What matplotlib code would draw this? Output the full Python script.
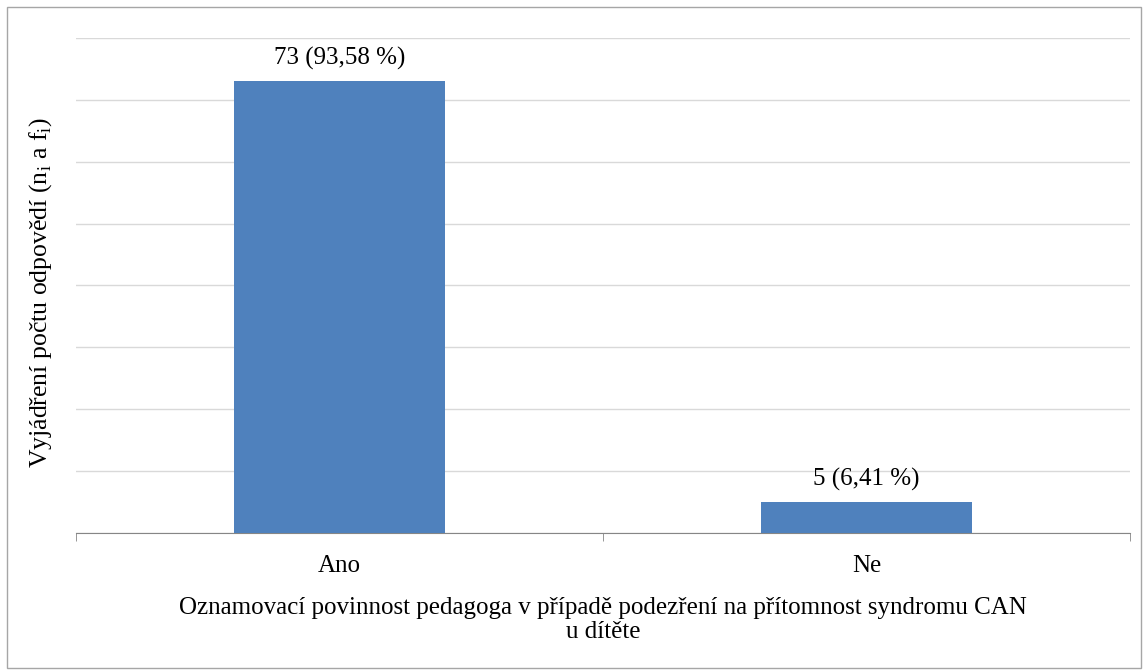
"""Oznamovací povinnost pedagoga - sloupcový graf."""
import matplotlib.pyplot as plt
from matplotlib.patches import Rectangle

plt.rcParams["font.family"] = ["Liberation Serif", "DejaVu Serif"]
plt.rcParams["mathtext.fontset"] = "custom"
plt.rcParams["mathtext.rm"] = "Liberation Serif"

categories = ["Ano", "Ne"]
counts = [73, 5]
percent_labels = ["73 (93,58 %)", "5 (6,41 %)"]

fig = plt.figure(figsize=(11.48, 6.72), dpi=100)
ax = fig.add_axes([0.0662, 0.2068, 0.918, 0.7367])

# rámeček kolem celého grafu
fig.patches.append(Rectangle((0.006, 0.006), 0.988, 0.983, transform=fig.transFigure,
                             fill=False, edgecolor="#a6a6a6", linewidth=1.0))

x = range(len(categories))
bars = ax.bar(x, counts, width=0.4, color="#4f81bd", zorder=3)

for bar, lab in zip(bars, percent_labels):
    ax.text(bar.get_x() + bar.get_width() / 2, bar.get_height() + 1.8, lab,
            ha="center", va="bottom", fontsize=18)

ax.set_xlim(-0.5, 1.5)
ax.set_ylim(0, 80)
ax.set_yticks(range(0, 81, 10))
ax.yaxis.grid(True, color="#d9d9d9", linewidth=1.0, zorder=0)
ax.tick_params(axis="y", left=False, labelleft=False)

ax.set_xticks(x)
ax.set_xticklabels(categories, fontsize=18)
ax.set_xticks([-0.5, 0.5, 1.5], minor=True)
ax.tick_params(axis="x", which="major", length=0, pad=16)
ax.tick_params(axis="x", which="minor", length=6, color="#868686")

for side in ["top", "right", "left"]:
    ax.spines[side].set_visible(False)
ax.spines["bottom"].set_color("#868686")

ax.set_xlabel("Oznamovací povinnost pedagoga v případě podezření na přítomnost syndromu CAN\nu dítěte",
              fontsize=18, labelpad=14, linespacing=1.15)
ax.set_ylabel(r"Vyjádření počtu odpovědí (n$_\mathregular{i}$ a f$_\mathregular{i}$)",
              fontsize=18.5)
ax.yaxis.set_label_coords(-0.021, 0.485)

plt.savefig("out.png", dpi=100)
